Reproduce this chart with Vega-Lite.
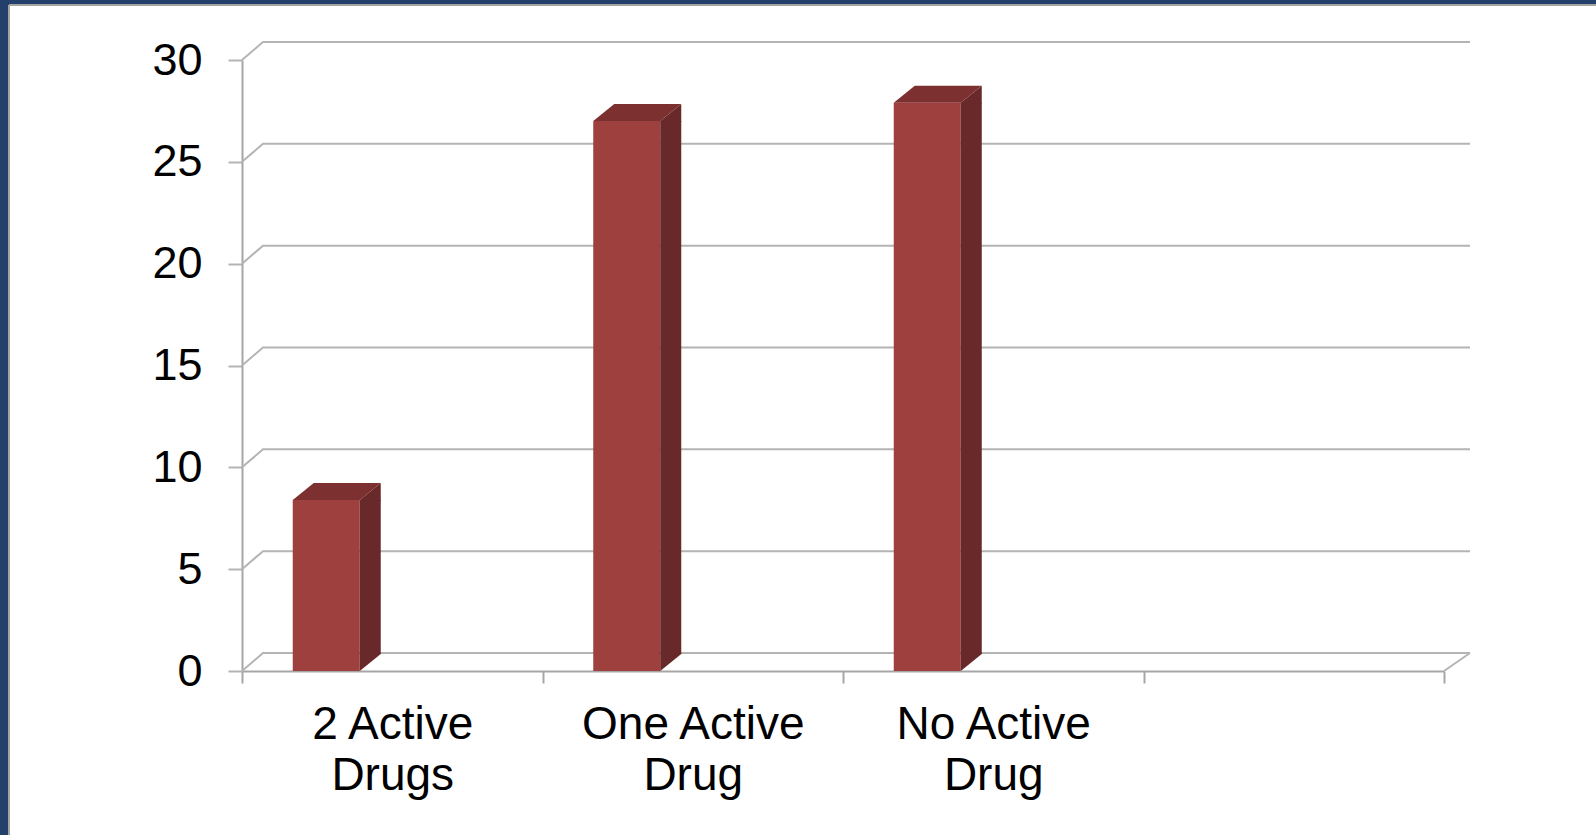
{
  "$schema": "https://vega.github.io/schema/vega-lite/v6.json",
  "autosize": {"type": "none"},
  "padding": {"left": 9, "top": 5, "right": 0, "bottom": 0},
  "width": 1587,
  "height": 830,
  "background": "#23406b",
  "config": {
    "font": "Liberation Sans",
    "view": {"fill": "#ffffff", "stroke": "#a3a3a3", "strokeWidth": 2, "strokeDash": [1587, 2417, 830, 0]}
  },
  "datasets": {
    "drugs": [
      {"group": "2 Active Drugs", "count": 8.4},
      {"group": "One Active Drug", "count": 27.0},
      {"group": "No Active Drug", "count": 27.9}
    ],
    "ticks": [
      {"v": 0}, {"v": 5}, {"v": 10}, {"v": 15}, {"v": 20}, {"v": 25}, {"v": 30}
    ],
    "floor": [{"edge": "floor"}]
  },
  "layer": [
    {
      "description": "back wall gridlines with the slanted link to each y tick; this layer also carries both axes",
      "data": {"name": "ticks"},
      "mark": {
        "type": "point",
        "shape": "M-150.25,0L-129.25,-18L1077.75,-18",
        "size": 4,
        "filled": false,
        "opacity": 1,
        "stroke": "#b4b4b4",
        "strokeWidth": 2
      },
      "encoding": {
        "x": {
          "datum": "2 Active Drugs", "type": "nominal",
          "scale": {"type": "band", "domain": ["2 Active Drugs", "One Active Drug", "No Active Drug", " "], "range": [233, 1435], "paddingInner": 0, "paddingOuter": 0},
          "axis": {
            "orient": "bottom", "offset": -164, "title": null, "grid": false,
            "tickBand": "extent", "tickSize": 12, "tickColor": "#a6a6a6", "tickWidth": 2,
            "domainColor": "#a6a6a6", "domainWidth": 2,
            "labelAngle": 0, "labelFontSize": 46, "labelColor": "#000000",
            "labelPadding": 19, "labelLineHeight": 51, "labelLimit": 400, "labelBaseline": "top",
            "labelExpr": "datum.label == ' ' ? '' : [slice(datum.label, 0, lastindexof(datum.label, ' ')), slice(datum.label, lastindexof(datum.label, ' ') + 1)]"
          }
        },
        "y": {
          "field": "v", "type": "quantitative",
          "scale": {"domain": [0, 30], "range": [666, 55], "nice": false},
          "axis": {
            "orient": "left", "offset": -233, "title": null, "grid": false,
            "values": [0, 5, 10, 15, 20, 25, 30],
            "tickSize": 14, "tickColor": "#b4b4b4", "tickWidth": 2,
            "domainColor": "#a6a6a6", "domainWidth": 2,
            "labelFontSize": 45, "labelColor": "#000000", "labelPadding": 26
          }
        }
      }
    },
    {
      "description": "right edge of the floor",
      "data": {"name": "floor"},
      "mark": {
        "type": "point",
        "shape": "M150.25,0L176.25,-18",
        "size": 4,
        "filled": false,
        "opacity": 1,
        "stroke": "#b4b4b4",
        "strokeWidth": 2
      },
      "encoding": {
        "x": {"datum": " ", "type": "nominal"},
        "y": {"datum": 0, "type": "quantitative"}
      }
    },
    {
      "description": "front face of each column",
      "data": {"name": "drugs"},
      "mark": {"type": "bar", "width": 67, "xOffset": -66, "color": "#9d403e"},
      "encoding": {
        "x": {"field": "group", "type": "nominal"},
        "y": {"field": "count", "type": "quantitative"},
        "y2": {"datum": 0}
      }
    },
    {
      "description": "side face, straight part",
      "data": {"name": "drugs"},
      "mark": {"type": "bar", "width": 21, "xOffset": -22, "y2Offset": -17, "color": "#692829"},
      "encoding": {
        "x": {"field": "group", "type": "nominal"},
        "y": {"field": "count", "type": "quantitative"},
        "y2": {"datum": 0}
      }
    },
    {
      "description": "side face, slanted top corner",
      "data": {"name": "drugs"},
      "mark": {"type": "point", "shape": "M-32.5,1L-32.5,0L-11.5,-17L-11.5,1Z", "size": 4, "filled": true, "opacity": 1, "color": "#692829", "strokeWidth": 0},
      "encoding": {
        "x": {"field": "group", "type": "nominal"},
        "y": {"field": "count", "type": "quantitative"}
      }
    },
    {
      "description": "side face, slanted bottom corner",
      "data": {"name": "drugs"},
      "mark": {"type": "point", "shape": "M-32.5,-18L-32.5,0L-11.5,-17L-11.5,-18Z", "size": 4, "filled": true, "opacity": 1, "color": "#692829", "strokeWidth": 0},
      "encoding": {
        "x": {"field": "group", "type": "nominal"},
        "y": {"datum": 0, "type": "quantitative"}
      }
    },
    {
      "description": "top face of each column",
      "data": {"name": "drugs"},
      "mark": {"type": "point", "shape": "M-99.5,0L-32.5,0L-11.5,-17L-78.5,-17Z", "size": 4, "filled": true, "opacity": 1, "color": "#7c302f", "strokeWidth": 0},
      "encoding": {
        "x": {"field": "group", "type": "nominal"},
        "y": {"field": "count", "type": "quantitative"}
      }
    }
  ]
}
